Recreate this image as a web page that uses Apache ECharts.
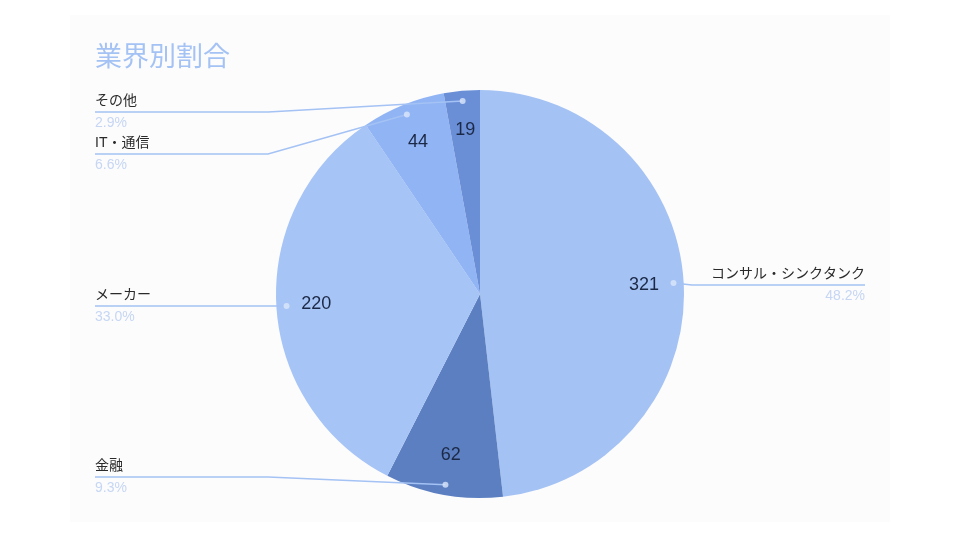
<!DOCTYPE html>
<html>
<head>
<meta charset="utf-8">
<script src="https://cdn.jsdelivr.net/npm/echarts@6/dist/echarts.min.js"></script>
<style>
html,body{margin:0;padding:0;background:#ffffff;}
#chart{width:960px;height:540px;}
</style>
</head>
<body>
<div id="chart"></div>
<script>
var titleText = '業界別割合';
var categories = ['コンサル・シンクタンク', '金融', 'メーカー', 'IT・通信', 'その他'];
var values = [321, 62, 220, 44, 19];
var colors = ['#a4c2f4', '#5b7fc1', '#a6c4f6', '#90b4f4', '#6a8fd7'];

var FONT = "'Liberation Sans', Arial, 'Noto Sans CJK JP', sans-serif";
var CX = 480, CY = 294, R = 204;
// label line heights (layout only), by slice index
var labelLineY = [285, 477, 306, 154, 112];

var total = values.reduce(function (a, b) { return a + b; }, 0);
var pieData = categories.map(function (c, i) {
  return { name: c, value: values[i], itemStyle: { color: colors[i] } };
});
var plainData = categories.map(function (c, i) {
  return { name: c, value: values[i] };
});
var cum = 0;
var dotData = values.map(function (v) {
  var mid = cum + v / 2;
  cum += v;
  return [0.95, mid];
});

var chart = echarts.init(document.getElementById('chart'));
chart.setOption({
  animation: false,
  backgroundColor: '#ffffff',
  graphic: [{
    type: 'rect', z: -10, silent: true,
    shape: { x: 70, y: 15, width: 820, height: 507 },
    style: { fill: '#fcfcfd' }
  }],
  title: {
    text: titleText, left: 90, top: 40,
    textStyle: { fontSize: 27, fontWeight: 'normal', color: '#a4c2f4', fontFamily: FONT }
  },
  polar: { center: [CX, CY], radius: R },
  angleAxis: {
    type: 'value', min: 0, max: total, startAngle: 90, clockwise: true,
    show: false, axisLine: { show: false }, splitLine: { show: false }, axisLabel: { show: false }, axisTick: { show: false }
  },
  radiusAxis: {
    type: 'value', min: 0, max: 1, show: false,
    axisLine: { show: false }, splitLine: { show: false }, axisLabel: { show: false }, axisTick: { show: false }
  },
  series: [
    {
      type: 'pie', center: [CX, CY], radius: [0, R], startAngle: 90, clockwise: true,
      data: pieData, label: { show: false }, labelLine: { show: false }, silent: true, z: 1
    },
    {
      type: 'pie', center: [CX, CY], radius: [R * 0.58, R], startAngle: 90, clockwise: true,
      data: plainData, silent: true, z: 3,
      itemStyle: { color: 'rgba(0,0,0,0)' },
      label: { show: true, position: 'inside', formatter: '{c}', fontSize: 18, color: '#1c2946', fontFamily: FONT },
      labelLine: { show: false }
    },
    {
      type: 'pie', center: [CX, CY], radius: [0, R * 0.95], startAngle: 90, clockwise: true,
      data: plainData, silent: true, z: 2,
      itemStyle: { color: 'rgba(0,0,0,0)' },
      label: {
        show: true, position: 'outside', alignTo: 'edge', edgeDistance: 95,
        formatter: function (p) { return '{n|' + p.name + '}\n{p|' + p.percent.toFixed(1) + '%}'; },
        rich: {
          n: { fontSize: 14, color: '#2a2a2a', lineHeight: 22, fontFamily: FONT },
          p: { fontSize: 14, color: '#c6d6f3', lineHeight: 22, fontFamily: FONT }
        }
      },
      labelLine: { show: true, length: 6, length2: 20, lineStyle: { color: '#a4c2f4', width: 1.5 } },
      labelLayout: function (p) {
        var r = p.labelRect;
        var pts = p.labelLinePoints;
        if (!pts) return {};
        var isLeft = (r.x + r.width / 2) < CX;
        var y = labelLineY[p.dataIndex];
        var elbowX = isLeft ? 268 : 692;
        var endX = isLeft ? r.x : r.x + r.width;
        return {
          y: y,
          verticalAlign: 'middle',
          labelLinePoints: [pts[0], [elbowX, y], [endX, y]]
        };
      }
    },
    {
      type: 'scatter', coordinateSystem: 'polar', data: dotData, symbol: 'circle', symbolSize: 6,
      itemStyle: { color: '#dce7fa' }, silent: true, z: 5
    }
  ]
});
</script>
</body>
</html>
